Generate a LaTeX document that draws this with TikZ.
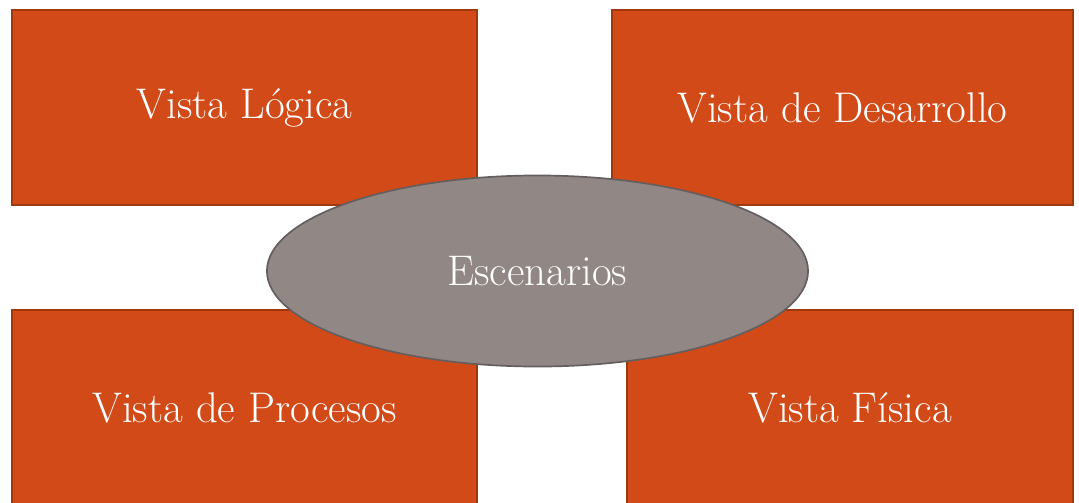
\documentclass[tikz,border=0pt]{standalone}
\usetikzlibrary{shapes.geometric}
\definecolor{vistafill}{RGB}{210,74,23}
\definecolor{vistaline}{RGB}{160,56,16}
\definecolor{escfill}{RGB}{145,135,133}
\definecolor{escline}{RGB}{100,94,94}
\tikzset{
  vista/.style={draw=vistaline, line width=1.2pt, fill=vistafill, text=white,
    minimum height=4.875cm, inner sep=0pt,
    font=\fontsize{30.5}{36}\selectfont},
  escenario/.style={ellipse, draw=escline, line width=1.2pt, fill=escfill, text=white,
    minimum width=13.525cm, minimum height=4.775cm, inner sep=0pt,
    font=\fontsize{30.5}{36}\selectfont}
}

\begin{document}
\begin{tikzpicture}[x=0.025cm,y=-0.025cm]
      \useasboundingbox (0,0) rectangle (1079,502);
      \begin{scope}
        \node[vista, minimum width=11.625cm] (logica) at (244.5,107.5) {Vista Lógica};
        \node[vista, minimum width=11.525cm] (desarrollo) at (842.5,107.5) {Vista de Desarrollo};
        \node[vista, minimum width=11.625cm] (procesos) at (244.5,407.5) {Vista de Procesos};
        \node[vista, minimum width=11.15cm] (fisica) at (850,407.5) {Vista Física};
        \node[escenario] (escenarios) at (537.5,271) {Escenarios};
      \end{scope}
    \end{tikzpicture}
\end{document}
